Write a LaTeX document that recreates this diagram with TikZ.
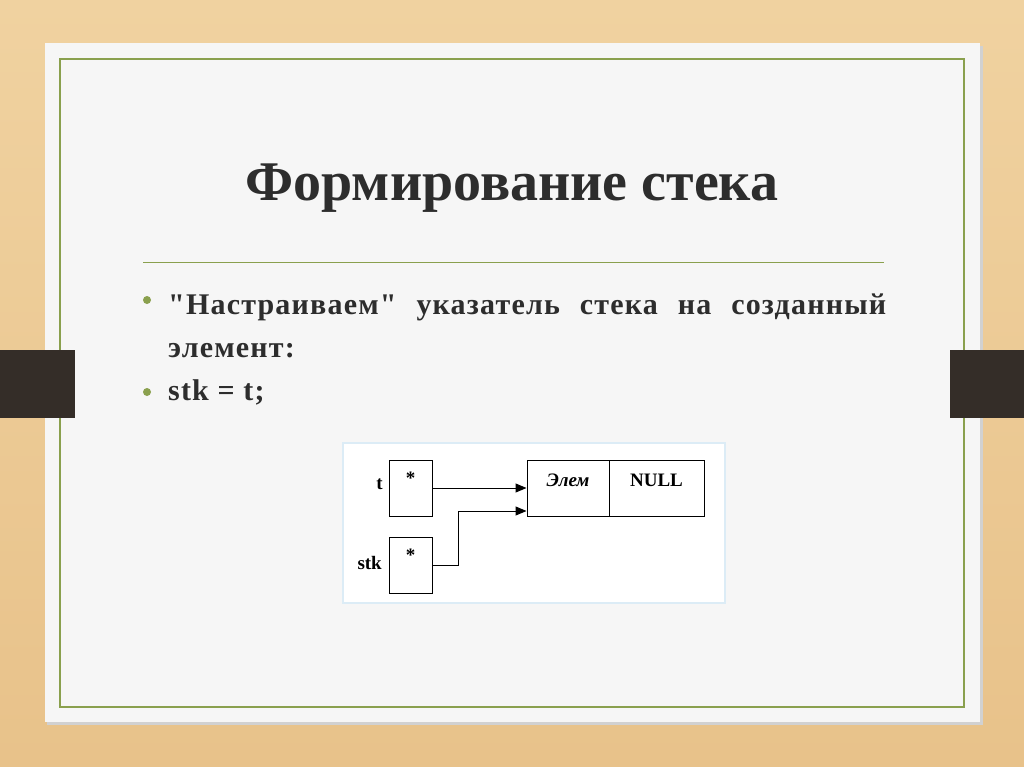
\documentclass[tikz,border=0pt]{standalone}
\usepackage{fontspec}
\setmainfont{Liberation Serif}[Ligatures=TeXOff]
\usetikzlibrary{arrows.meta}
\definecolor{wood}{RGB}{232,194,138}
\definecolor{woodlight}{RGB}{240,210,160}
\definecolor{paper}{RGB}{246,246,246}
\definecolor{frame}{RGB}{138,160,78}
\definecolor{band}{RGB}{52,45,40}
\definecolor{ink}{RGB}{45,45,45}
\definecolor{pale}{RGB}{220,236,246}
\tikzset{
	ptr/.style={draw, line width=1pt, minimum width=43pt, minimum height=56pt, inner sep=0pt},
	cell/.style={draw, line width=1pt, minimum height=56pt, inner sep=0pt},
	small/.style={font=\fontsize{19}{22}\selectfont\bfseries, inner sep=0pt},
	body/.style={ink, font=\fontsize{30}{43}\selectfont\bfseries\addfontfeatures{LetterSpace=4}, inner sep=0pt},
	link/.style={line width=1pt, -{Triangle[length=11pt, width=9pt]}}
}

\begin{document}
\begin{tikzpicture}[x=1pt, y=-1pt]
	% 1024 x 767, one unit = one pixel
	\useasboundingbox (0,0) rectangle (1024,767);
	\shade[top color=woodlight, bottom color=wood] (0,0) rectangle (1024,767);
	% slide
	\fill[black!18] (47,46) rectangle (983,725);
	\fill[paper] (45,43) rectangle (980,722);
	\draw[frame, line width=1.5pt] (60,59) rectangle (964,707);
	% binder bands
	\fill[band] (0,350) rectangle (75,418);
	\fill[band] (950,350) rectangle (1024,418);
	
	% title
	\node[ink, font=\fontsize{56}{60}\selectfont\bfseries, anchor=base, inner sep=0pt]
		(title) at (512,201) {Формирование стека};
	\draw[frame, line width=1pt] (143,262) -- (884,262);
	
	% bullets
	\fill[frame] (147,300) circle (4);
	\fill[frame] (147,392) circle (4);
	\node[body, anchor=base west] (line1) at (168,314)
		{\makebox[718pt][s]{"Настраиваем" указатель стека на созданный}};
	\node[body, anchor=base west] (line2) at (168,357) {элемент:};
	\node[body, anchor=base west] (line3) at (168,400) {stk = t;};
	
	% picture of the stack
	\fill[white] (343,443) rectangle (725,603);
	\draw[pale, line width=2pt] (343,443) rectangle (725,603);
	
	\node[ptr] (t) at (410.5,488) {};
	\node[ptr] (stk) at (410.5,565.5) {};
	\node[cell, minimum width=82pt] (elem) at (568,488) {};
	\node[cell, minimum width=95pt] (null) at (656.5,488) {};
	
	\node[small, anchor=base east] (tname) at (383,489) {t};
	\node[small, anchor=base east] (stkname) at (382,569) {stk};
	\node[small, anchor=north] (tstar) at ([yshift=-12pt]t.north) {*};
	\node[small, anchor=north] (stkstar) at ([yshift=-12pt]stk.north) {*};
	\node[small, anchor=base] (elemtext) at ([yshift=-27pt]elem.north) {\itshape Элем};
	\node[small, anchor=base] (nulltext) at ([yshift=-27pt]null.north) {NULL};
	
	\draw[link] (t.east) -- (elem.west);
	\draw[link] (stk.east) -- ++(26,0) |- ([yshift=-23pt]elem.west);
\end{tikzpicture}
\end{document}
